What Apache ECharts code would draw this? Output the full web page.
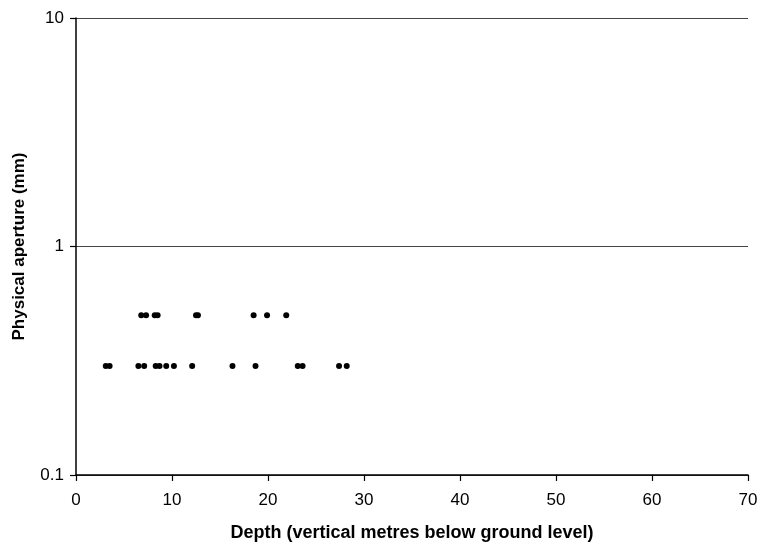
<!DOCTYPE html>
<html>
<head>
<meta charset="utf-8">
<script src="https://cdn.jsdelivr.net/npm/echarts@6/dist/echarts.min.js"></script>
<style>
html, body { margin: 0; padding: 0; background: #fff; }
#chart { width: 760px; height: 542px; }
</style>
</head>
<body>
<div id="chart"></div>
<script>
// depth (m) of each point, by aperture class
var depth05 = [6.8, 7.3, 8.2, 8.5, 12.5, 12.7, 18.5, 19.9, 21.9];
var depth03 = [3.1, 3.5, 6.5, 7.1, 8.3, 8.7, 9.4, 10.2, 12.1, 16.3, 18.7, 23.1, 23.6, 27.4, 28.2];
var aperture05 = 0.5;
var aperture03 = 0.3;

var points = [];
depth05.forEach(function (d) { points.push([d, aperture05]); });
depth03.forEach(function (d) { points.push([d, aperture03]); });

var font = 'Liberation Sans, Arial, sans-serif';
var chart = echarts.init(document.getElementById('chart'));
chart.setOption({
    animation: false,
    grid: { left: 76, right: 12, top: 18, bottom: 67, outerBoundsMode: 'none', containLabel: false },
    xAxis: {
        type: 'value',
        min: 0, max: 70, interval: 10,
        name: 'Depth (vertical metres below ground level)',
        nameLocation: 'middle',
        nameGap: 49,
        nameTextStyle: { fontFamily: font, fontSize: 18, fontWeight: 'bold', color: '#000' },
        axisLine: { lineStyle: { color: '#000', width: 1.5 } },
        axisTick: { show: true, inside: false, length: 6, lineStyle: { color: '#000', width: 1.2 } },
        axisLabel: { fontFamily: font, fontSize: 17, color: '#000', margin: 17 },
        splitLine: { show: false }
    },
    yAxis: {
        type: 'log',
        logBase: 10,
        min: 0.1, max: 10,
        name: 'Physical aperture (mm)',
        nameLocation: 'middle',
        nameGap: 48,
        nameTextStyle: { fontFamily: font, fontSize: 17, fontWeight: 'bold', color: '#000' },
        axisLine: { show: true, lineStyle: { color: '#000', width: 1.5 } },
        axisTick: { show: true, inside: false, length: 6, lineStyle: { color: '#000', width: 1.2 } },
        axisLabel: {
            fontFamily: font, fontSize: 17, color: '#000', margin: 12,
            formatter: function (v) { return v >= 1 ? String(Math.round(v)) : String(v); }
        },
        splitLine: { show: true, lineStyle: { color: '#444', width: 1 } },
        minorTick: { show: false }
    },
    series: [{
        type: 'scatter',
        data: points,
        symbol: 'circle',
        symbolSize: 6,
        itemStyle: { color: '#000', opacity: 1 }
    }]
});
</script>
</body>
</html>
